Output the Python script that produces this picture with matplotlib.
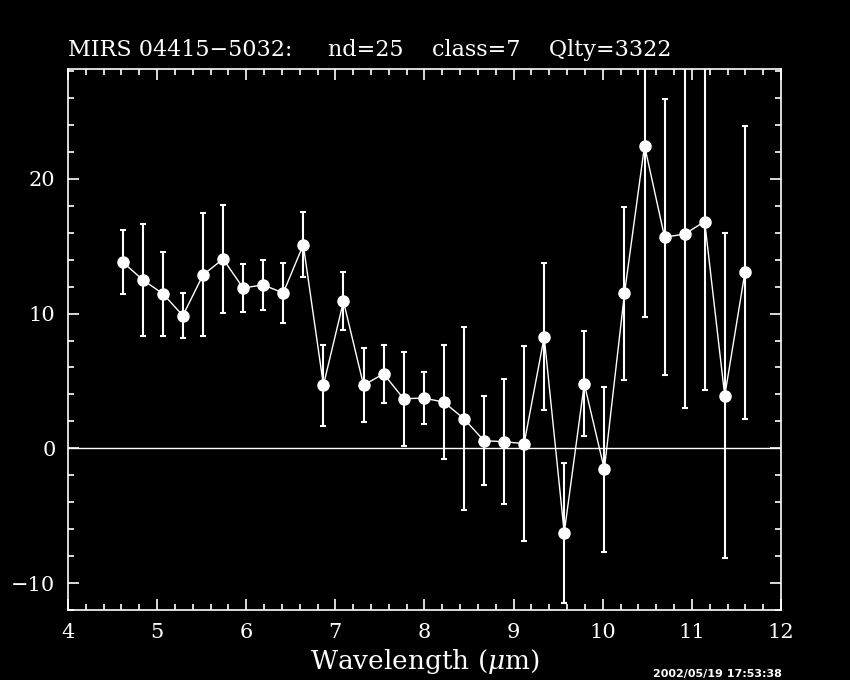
import numpy as np
import matplotlib
matplotlib.use('Agg')
import matplotlib.pyplot as plt
from matplotlib.ticker import MultipleLocator

# Spectrum values.
wave = [4.614, 4.839, 5.064, 5.289, 5.515, 5.740, 5.965, 6.190, 6.415, 6.640,
        6.866, 7.091, 7.316, 7.541, 7.766, 7.992, 8.217, 8.442, 8.667, 8.892,
        9.118, 9.343, 9.568, 9.793, 10.018, 10.244, 10.469, 10.694, 10.919, 11.144,
        11.369, 11.595]
flux = [13.83, 12.50, 11.48, 9.85, 12.87, 14.05, 11.90, 12.13, 11.53, 15.11,
        4.69, 10.91, 4.69, 5.53, 3.68, 3.73, 3.43, 2.20, 0.57, 0.49,
        0.35, 8.27, -6.27, 4.79, -1.56, 11.50, 22.47, 15.67, 15.90, 16.83,
        3.89, 13.05]
err = [2.37, 4.16, 3.11, 1.69, 4.56, 3.99, 1.78, 1.86, 2.24, 2.42,
       3.00, 2.15, 2.76, 2.14, 3.50, 1.90, 4.21, 6.79, 3.32, 4.64,
       7.24, 5.46, 5.21, 3.90, 6.13, 6.40, 12.70, 10.26, 12.90, 12.50,
       12.06, 10.85]

title = 'MIRS 04415\u22125032:     nd=25    class=7    Qlty=3322'
stamp = '2002/05/19 17:53:38'

plt.rcParams['font.family'] = ['DejaVu Serif']
plt.rcParams['mathtext.fontset'] = 'dejavuserif'

fig = plt.figure(figsize=(8.5, 6.8), dpi=100, facecolor='black')
ax = fig.add_axes([0.08, 0.1029, 0.8388, 0.7956], facecolor='black')

ax.axhline(0, color='white', lw=1)
ax.errorbar(wave, flux, yerr=err, fmt='-o', color='white', lw=1,
            elinewidth=1.5, capsize=2, capthick=1.5,
            markersize=8, markerfacecolor='white', markeredgecolor='white')

ax.set_xlim(4, 12)
ax.set_ylim(-12, 28.15)
ax.xaxis.set_major_locator(MultipleLocator(1))
ax.xaxis.set_minor_locator(MultipleLocator(0.2))
ax.yaxis.set_major_locator(MultipleLocator(10))
ax.yaxis.set_minor_locator(MultipleLocator(2))
ax.tick_params(which='both', direction='in', top=True, right=True,
               colors='white', labelsize=15, width=1.2)
ax.tick_params(which='major', length=8, pad=9)
ax.tick_params(which='minor', length=4)
for s in ax.spines.values():
    s.set_color('white')
    s.set_linewidth(1.2)

ax.set_yticks([-10, 0, 10, 20])
ax.set_yticklabels(['\u221210', '0', '10', '20'])

ax.set_xlabel(r'Wavelength ($\mu$m)', color='white', fontsize=19, labelpad=4)
fig.text(0.08, 0.91, title, color='white', fontsize=16, ha='left', va='bottom')
fig.text(0.768, 0.002, stamp, color='white', fontsize=8, ha='left', va='bottom',
         family='DejaVu Sans', weight='bold')

fig.savefig('out.png', dpi=100, facecolor='black')
